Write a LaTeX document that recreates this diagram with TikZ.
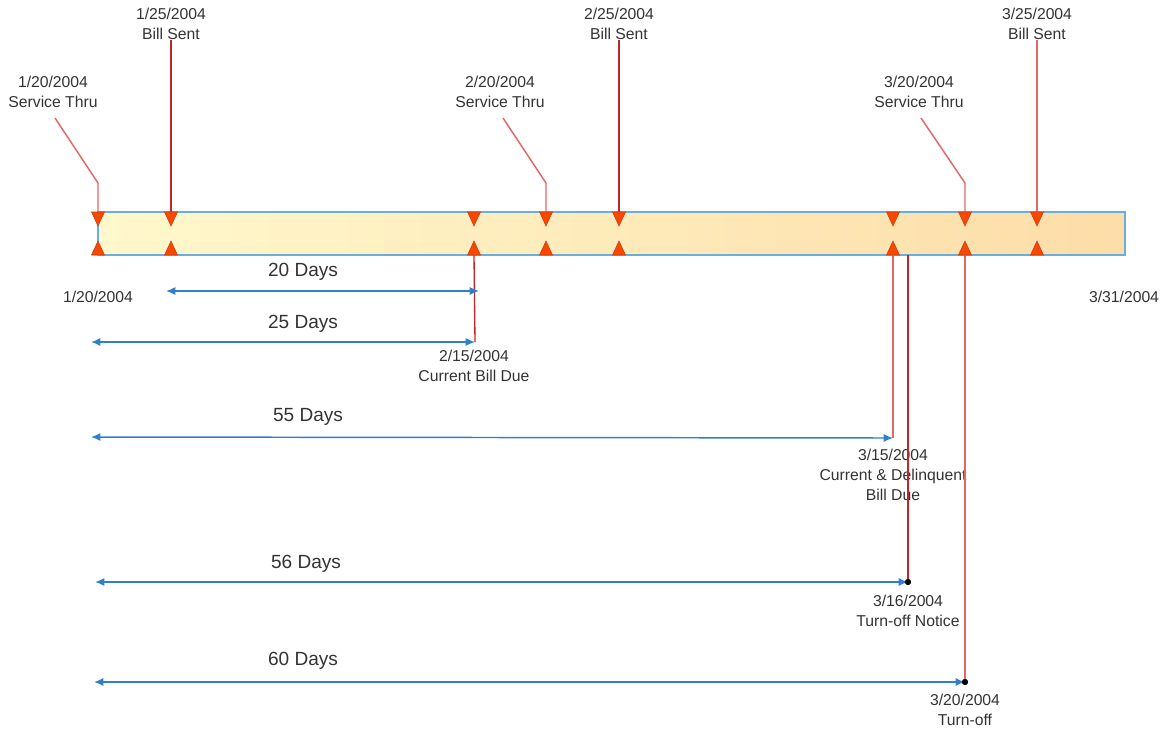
\documentclass[tikz,border=0pt]{standalone}
\usepackage{fontspec}
\setmainfont{Liberation Sans}
\usetikzlibrary{arrows.meta}
\definecolor{txt}{HTML}{333333}
\definecolor{barL}{HTML}{FFF8CC}
\definecolor{barR}{HTML}{FDDDA8}
\definecolor{barB}{HTML}{6AAEDC}
\definecolor{tri}{HTML}{F44A00}
\definecolor{triD}{HTML}{D03A18}
\definecolor{callA}{HTML}{E06868}
\definecolor{callB}{HTML}{C0262C}
\definecolor{spanc}{HTML}{2F80C8}
\begin{document}
\begin{tikzpicture}[x=0.75pt,y=-0.75pt,
  lbl/.style={text=txt,font=\fontsize{11.8}{15}\selectfont,align=center,inner sep=0pt},
  dlbl/.style={text=txt,font=\fontsize{14.3}{17}\selectfont,inner sep=0pt},
  call/.style={draw=callA,line width=1.1pt},
  calldark/.style={draw=callB,line width=1pt},
  spanarrow/.style={draw=spanc,line width=1.1pt,{Latex[length=7pt,width=6pt]}-{Latex[length=7pt,width=6pt]}},
  dot/.style={circle,fill=black,inner sep=0pt,minimum size=4.5pt},
  downtri/.style={fill=tri,draw=triD,line width=0.4pt},
]
\useasboundingbox (0,0) rectangle (1168,729);

% bar
\shade[left color=barL,right color=barR] (98,212) rectangle (1125,255);
\draw[barB,line width=1pt] (98,212) rectangle (1125,255);

% top labels
\node[lbl] (s1) at (53,92) {1/20/2004\\Service Thru};
\node[lbl] (s2) at (171,24) {1/25/2004\\Bill Sent};
\node[lbl] (s3) at (500,92) {2/20/2004\\Service Thru};
\node[lbl] (s4) at (619,24) {2/25/2004\\Bill Sent};
\node[lbl] (s5) at (919,92) {3/20/2004\\Service Thru};
\node[lbl] (s6) at (1037,24) {3/25/2004\\Bill Sent};

% coordinates on bar
\foreach \n/\x in {a/98,b/171,c/474,d/546,e/619,f/893,g/965,h/1037}{
  \coordinate (top\n) at (\x,212);
  \coordinate (bot\n) at (\x,255);
}
\coordinate (botx) at (908,255);

% callouts from top
\coordinate (c1) at (55,118);  \coordinate (k1) at (98,183);
\coordinate (c3) at (503,118); \coordinate (k3) at (546,183);
\coordinate (c5) at (921,118); \coordinate (k5) at (965,183);
\draw[call] (c1) -- (k1) -- (topa);
\draw[calldark] (s2.south) -- (topb);
\draw[call] (c3) -- (k3) -- (topd);
\draw[calldark] (s4.south) -- (tope);
\draw[call] (c5) -- (k5) -- (topg);
\draw[call] (s6.south) -- (toph);

% edge dates
\node[lbl] (e1) at (98,297) {1/20/2004};
\node[lbl] (e2) at (1124,297) {3/31/2004};

% bottom labels and end points
\coordinate (p1) at (475,342);
\coordinate (p2) at (893,438);
\node[dot] (p3) at (908,582) {};
\node[dot] (p4) at (965,682) {};
\node[lbl] (d1) at (474,366) {2/15/2004\\Current Bill Due};
\node[lbl] (d2) at (893,475) {3/15/2004\\Current \& Delinquent\\Bill Due};
\node[lbl] (d3) at (908,611) {3/16/2004\\Turn-off Notice};
\node[lbl] (d4) at (965,710) {3/20/2004\\Turn-off};

\draw[calldark] (botc) -- (p1);
\draw[call] (botf) -- (p2);
\draw[calldark] (botx) -- (p3.center);
\draw[call] (botg) -- (p4.center);

% span arrows
\coordinate (a1l) at (166,291); \coordinate (a1r) at (479,291);
\coordinate (a2l) at (91,342);
\coordinate (a3l) at (91,437);
\coordinate (a4l) at (95,582);
\coordinate (a5l) at (94,682);
\draw[spanarrow] (a1l) -- (a1r);
\draw[spanarrow] (a2l) -- (p1);
\draw[spanarrow] (a3l) -- (p2);
\draw[spanarrow] (a4l) -- (p3.center);
\draw[spanarrow] (a5l) -- (p4.center);
\node[dot] at (p3) {};
\node[dot] at (p4) {};

\node[dlbl] (l1) at (303,272) {20 Days};
\node[dlbl] (l2) at (303,324) {25 Days};
\node[dlbl] (l3) at (308,417) {55 Days};
\node[dlbl] (l4) at (306,564) {56 Days};
\node[dlbl] (l5) at (303,661) {60 Days};

% triangles
\foreach \x in {98,171,474,546,619,893,965,1037}{
  \path[downtri] (\x-6.5,212) -- (\x+6.5,212) -- (\x,226) -- cycle;
  \path[downtri] (\x-6.5,255) -- (\x+6.5,255) -- (\x,241) -- cycle;
}
\end{tikzpicture}
\end{document}
